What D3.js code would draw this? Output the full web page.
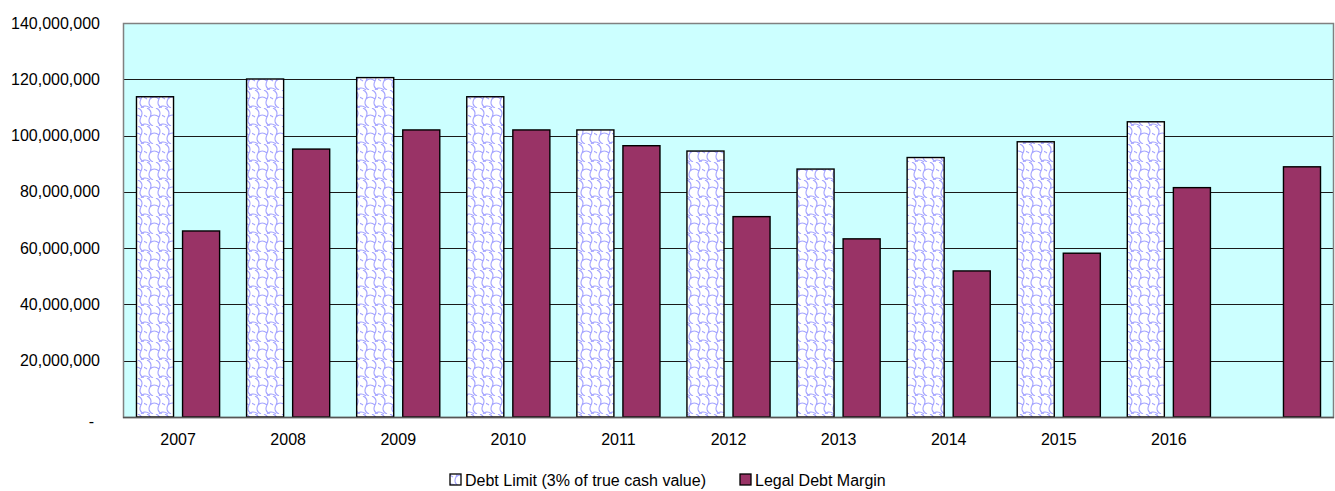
<!DOCTYPE html>
<html>
<head>
<meta charset="utf-8">
<script src="https://cdn.jsdelivr.net/npm/d3@7"></script>
<style>
  html, body { margin: 0; padding: 0; background: #ffffff; }
  svg { display: block; }
  text { font-family: "Liberation Sans", Arial, sans-serif; fill: #000; }
</style>
</head>
<body>
<svg id="chart" width="1335" height="491"></svg>
<script>
// ---- data ----
const categories = ["2007", "2008", "2009", "2010", "2011", "2012", "2013", "2014", "2015", "2016", ""];
const seriesNames = ["Debt Limit (3% of true cash value)", "Legal Debt Margin"];
const debtLimit = [113.8e6, 120.1e6, 120.6e6, 113.8e6, 102.0e6, 94.5e6, 88.1e6, 92.2e6, 97.8e6, 104.9e6, null];
const legalDebtMargin = [66.1e6, 95.2e6, 102.0e6, 102.0e6, 96.4e6, 71.2e6, 63.3e6, 51.9e6, 58.2e6, 81.5e6, 88.9e6];
const yTicks = [0, 20e6, 40e6, 60e6, 80e6, 100e6, 120e6, 140e6];

// ---- layout ----
const plot = { left: 123, right: 1334, top: 23, bottom: 417 };
const svg = d3.select("#chart");

// pattern for debt limit bars
const defs = svg.append("defs");
const pat = defs.append("pattern")
  .attr("id", "scales")
  .attr("patternUnits", "userSpaceOnUse")
  .attr("width", 18).attr("height", 18);
pat.append("rect").attr("width", 18).attr("height", 18).attr("fill", "#ffffff");
pat.append("path")
  .attr("d", "M3,0 Q9,3 6,9 Q3,15 9,18 M12,0 Q18,3 15,9 Q12,15 18,18 M-6,9 Q-2,5 3,9 M6,9 Q10,5 15,9 M-3,0 Q1,-4 6,0 M15,18 Q19,14 24,18 M-3,18 Q1,14 6,18")
  .attr("fill", "none").attr("stroke", "#a3a3ff").attr("stroke-width", 1.1);

const x0 = d3.scaleBand().domain(categories.map((c, i) => i))
  .range([plot.left, plot.right]).paddingInner(0.245).paddingOuter(0.1225);
const x1 = d3.scaleBand().domain([0, 1]).range([0, x0.bandwidth()]).paddingInner(0.196);
const y = d3.scaleLinear().domain([0, 140e6]).range([plot.bottom, plot.top]);

// background
svg.append("rect")
  .attr("x", plot.left).attr("y", plot.top)
  .attr("width", plot.right - plot.left).attr("height", plot.bottom - plot.top)
  .attr("fill", "#ccffff");

// gridlines
svg.append("g").selectAll("line").data(yTicks.filter(d => d > 0 && d < 140e6)).join("line")
  .attr("x1", plot.left).attr("x2", plot.right)
  .attr("y1", d => Math.round(y(d)) + 0.5).attr("y2", d => Math.round(y(d)) + 0.5)
  .attr("stroke", "#1a1a1a").attr("stroke-width", 1);

// plot border
svg.append("rect")
  .attr("x", plot.left + 0.5).attr("y", plot.top + 0.5)
  .attr("width", plot.right - plot.left - 1).attr("height", plot.bottom - plot.top)
  .attr("fill", "none").attr("stroke", "#808080").attr("stroke-width", 1.5);

// bars
const series = [
  { values: debtLimit, fill: "url(#scales)" },
  { values: legalDebtMargin, fill: "#993366" }
];
series.forEach((s, si) => {
  svg.append("g").selectAll("rect")
    .data(s.values.map((v, i) => ({ v, i })).filter(d => d.v != null))
    .join("rect")
    .attr("x", d => x0(d.i) + x1(si))
    .attr("width", x1.bandwidth())
    .attr("y", d => y(d.v))
    .attr("height", d => y(0) - y(d.v))
    .attr("fill", s.fill)
    .attr("stroke", "#000").attr("stroke-width", 1.4);
});

// bottom axis line
svg.append("line")
  .attr("x1", plot.left).attr("x2", plot.right)
  .attr("y1", plot.bottom + 0.5).attr("y2", plot.bottom + 0.5)
  .attr("stroke", "#555").attr("stroke-width", 1.5);

// y axis labels
const yAxis = d3.axisLeft(y).tickValues(yTicks)
  .tickFormat(d => d === 0 ? "-" : d3.format(",")(d))
  .tickSize(0).tickPadding(23);
const gy = svg.append("g").attr("transform", `translate(${plot.left},0)`).call(yAxis);
gy.select(".domain").remove();
gy.selectAll("text").style("font-size", "16px").style("font-family", "'Liberation Sans', Arial, sans-serif").attr("fill", "#000");
gy.selectAll("text").filter(d => d === 0).attr("dx", "-6").attr("dy", "0.6em");

// x axis labels
const xAxis = d3.axisBottom(x0).tickFormat(i => categories[i]).tickSize(0).tickPadding(17);
const gx = svg.append("g").attr("transform", `translate(0,${plot.bottom})`).call(xAxis);
gx.select(".domain").remove();
gx.selectAll("text").style("font-size", "16px").style("font-family", "'Liberation Sans', Arial, sans-serif").attr("fill", "#000");

// legend
const legendItems = [
  { name: seriesNames[0], fill: "url(#scales)", x: 450 },
  { name: seriesNames[1], fill: "#993366", x: 740 }
];
const lg = svg.append("g");
legendItems.forEach(it => {
  lg.append("rect").attr("x", it.x).attr("y", 474).attr("width", 11).attr("height", 11)
    .attr("fill", it.fill).attr("stroke", "#000").attr("stroke-width", 1.3);
  lg.append("text").attr("x", it.x + 15).attr("y", 486)
    .style("font-size", "16px").text(it.name);
});
</script>
</body>
</html>
